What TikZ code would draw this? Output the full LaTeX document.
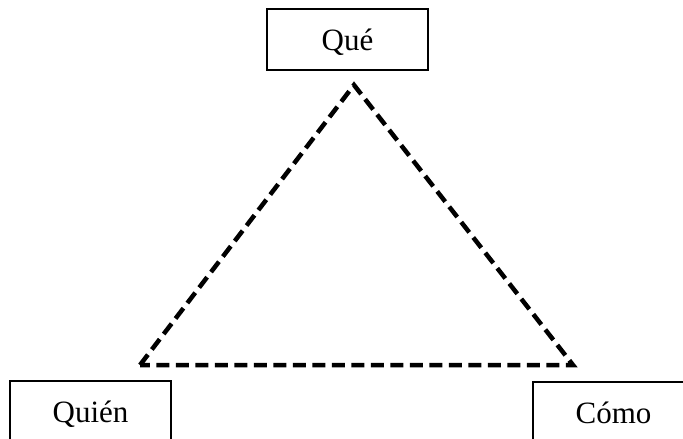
\documentclass[tikz,border=0pt]{standalone}
\usepackage{fontspec}
\setmainfont{Liberation Serif}
\tikzset{
  labelbox/.style={draw, line width=1.5pt, minimum width=161pt, minimum height=61pt,
    inner sep=0pt, text height=21pt, text depth=0pt, font=\fontsize{31}{34}\selectfont},
  triedge/.style={line width=4.5pt, dash pattern=on 13pt off 6.5pt, line join=miter}
}
\begin{document}
\begin{tikzpicture}[x=1pt, y=-1pt]
  \useasboundingbox (0,0) rectangle (683,439);
  \clip (0,0) rectangle (683,439);
  % corner boxes
  \node[labelbox] (que)   at (347.5,39.5)  {Qué};
  \node[labelbox] (quien) at (90.5,411.5)  {Quién};
  \node[labelbox] (como)  at (613.5,412.5) {Cómo};
  % dashed triangle between the three ideas
  \coordinate (top)   at (354,85);
  \coordinate (left)  at (140,365);
  \coordinate (right) at (573,365);
  \draw[triedge] (left) -- (top) -- (right) -- cycle;
\end{tikzpicture}
\end{document}
